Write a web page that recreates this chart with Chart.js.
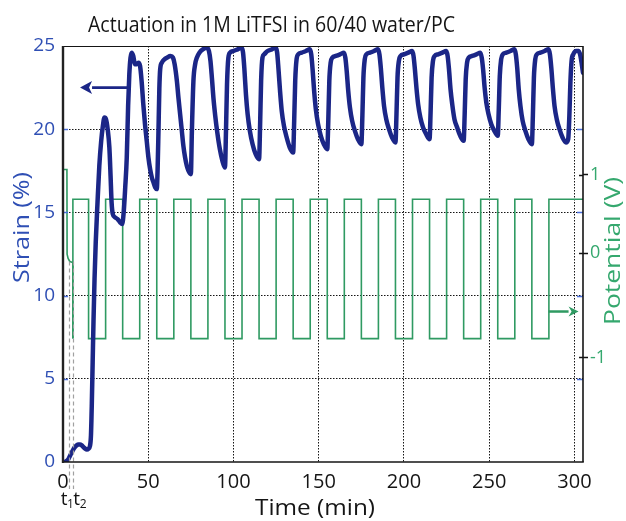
<!DOCTYPE html>
<html>
<head>
<meta charset="utf-8">
<script src="https://cdn.jsdelivr.net/npm/chart.js@4.4.1/dist/chart.umd.min.js"></script>
<style>
  html, body { margin: 0; padding: 0; background: #ffffff; }
  #plot { display: block; }
</style>
</head>
<body>
<canvas id="plot" width="626" height="521"></canvas>
<script>
// ---- data ---------------------------------------------------------------
const chartTitle = 'Actuation in 1M LiTFSI in 60/40 water/PC';
const timeTitle = 'Time (min)';
const strainTitle = 'Strain (%)';
const potentialTitle = 'Potential (V)';

const timeTicks = [0, 50, 100, 150, 200, 250, 300];
const strainTicks = [0, 5, 10, 15, 20, 25];
const potentialTicks = [-1, 0, 1];

// strain record (min, %)
const strainTime = [
  0, 1, 2, 3, 4, 5, 6, 7, 8, 9, 10, 11, 12, 13, 14, 15,
  15.8, 16.4, 16.9, 17.4, 17.9, 18.5, 19.2, 20.2, 21.3, 22.4, 23.4, 24.3, 25.2, 26.2, 27.2, 27.9, 28.5, 29.2, 30.5, 32, 33.5, 34.7,
  35.6, 36.5, 37.4, 38.2, 38.9, 39.6, 40.3, 41.2, 42.2, 43.2, 44.2, 45.2, 46.1, 47.1, 48.1, 49.1, 50.1, 51.1, 52.1, 53.1, 54.1, 55,
  55.5, 56, 56.5, 57, 58, 59.5, 61, 63, 64.5, 65.5, 66.8, 67.7, 68.7, 69.7, 70.6, 71.6, 72.6, 73.6, 75,
  75.6, 76.5, 77.5, 78.5, 80, 82, 84.4, 85.6, 86.5, 87.4, 88.3, 89.3, 90.5, 92, 93.5, 95,
  95.6, 96.2, 97, 98, 100, 102.5, 104.8, 105.6, 106.4, 107.3, 108.3, 109.6, 111.2, 113, 115,
  115.6, 116.2, 117, 118, 120, 122.5, 124.8, 125.6, 126.4, 127.3, 128.3, 129.6, 131.2, 133, 135,
  135.6, 136.2, 137, 138, 140, 142.5, 144.8, 145.6, 146.4, 147.3, 148.3, 149.6, 151.2, 153, 155,
  155.6, 156.2, 157, 158, 160, 162.5, 164.8, 165.6, 166.4, 167.3, 168.3, 169.6, 171.2, 173, 175,
  175.6, 176.2, 177, 178, 180, 182.5, 184.8, 185.6, 186.4, 187.3, 188.3, 189.6, 191.2, 193, 195,
  195.6, 196.2, 197, 198, 200, 202.5, 204.8, 205.6, 206.4, 207.3, 208.3, 209.6, 211.2, 213, 215,
  215.6, 216.2, 217, 218, 220, 222.5, 224.8, 225.6, 226.4, 227.3, 228.3, 229.6, 231.2, 233, 235,
  235.6, 236.2, 237, 238, 240, 242.5, 244.8, 245.6, 246.4, 247.3, 248.3, 249.6, 251.2, 253, 255,
  255.6, 256.2, 257, 258, 260, 262.5, 264.8, 265.6, 266.4, 267.3, 268.3, 269.6, 271.2, 273, 275,
  275.6, 276.2, 277, 278, 280, 282.5, 284.8, 285.6, 286.4, 287.3, 288.3, 289.6, 291.2, 293, 295,
  296.3, 297, 297.6, 298.3, 299.3, 301, 302.5, 303.5, 304.3, 305
];
const strainPercent = [
  0, 0, 0.05, 0.15, 0.35, 0.55, 0.75, 0.9, 1.0, 1.05, 1.05, 1.0, 0.9, 0.8, 0.75, 0.8,
  0.95, 1.6, 3.5, 6.0, 8.5, 11.0, 13.2, 15.5, 17.8, 19.3, 20.2, 20.7, 20.6, 20.0, 18.9, 17.2, 15.6, 14.9, 14.7, 14.6, 14.4, 14.3,
  15.0, 16.5, 18.3, 21.4, 23.3, 24.3, 24.6, 24.4, 23.9, 23.9, 24.0, 23.8, 22.9, 21.5, 20.3, 19.3, 18.3, 17.6, 17.1, 16.8, 16.5, 16.4,
  17.6, 19.9, 22.4, 23.6, 24.0, 24.2, 24.3, 24.4, 24.3, 23.9, 22.9, 21.9, 20.9, 19.9, 19.0, 18.3, 17.8, 17.5, 17.3,
  19.9, 22.9, 23.9, 24.3, 24.6, 24.8, 24.9, 24.7, 24.1, 23.0, 21.8, 20.8, 19.8, 18.8, 18.1, 17.7,
  19.9, 22.7, 24.3, 24.6, 24.7, 24.8, 24.9, 24.6, 23.6, 22.1, 20.9, 19.9, 19.1, 18.5, 18.2,
  20.2, 22.9, 24.3, 24.5, 24.7, 24.8, 24.9, 24.6, 23.6, 22.3, 21.1, 20.2, 19.5, 18.9, 18.6,
  20.5, 22.9, 24.2, 24.5, 24.6, 24.7, 24.8, 24.5, 23.6, 22.3, 21.2, 20.3, 19.6, 19.1, 18.8,
  20.5, 22.9, 24.0, 24.3, 24.4, 24.5, 24.6, 24.3, 23.5, 22.3, 21.3, 20.5, 19.9, 19.4, 19.1,
  20.8, 23.1, 24.2, 24.5, 24.6, 24.7, 24.8, 24.5, 23.7, 22.5, 21.4, 20.6, 20.0, 19.5, 19.2,
  20.9, 23.1, 24.1, 24.4, 24.5, 24.6, 24.7, 24.4, 23.6, 22.5, 21.5, 20.7, 20.1, 19.7, 19.4,
  21.0, 23.1, 24.1, 24.4, 24.5, 24.6, 24.7, 24.4, 23.6, 22.4, 21.5, 20.6, 20.1, 19.6, 19.3,
  20.9, 23.0, 24.0, 24.3, 24.4, 24.5, 24.6, 24.3, 23.6, 22.5, 21.6, 20.9, 20.3, 19.9, 19.6,
  21.2, 23.2, 24.2, 24.5, 24.6, 24.7, 24.8, 24.5, 23.7, 22.4, 21.4, 20.5, 19.9, 19.4, 19.1,
  20.8, 23.1, 24.2, 24.5, 24.6, 24.7, 24.8, 24.5, 23.7, 22.5, 21.4, 20.6, 20.0, 19.5, 19.2,
  19.4, 20.8, 22.8, 24.1, 24.5, 24.7, 24.7, 24.4, 23.9, 23.4
];

// applied potential: open-circuit start, then the square-wave programme (min, V)
const potentialStartTime = [0, 2.3, 2.4, 3.0, 4.0, 5.8, 5.8];
const potentialStartVolts = [1.07, 1.07, -0.01, -0.05, -0.08, -0.09, -0.82];
const switchTime = [5.8, 15, 25, 35, 45, 55, 65, 75, 85, 95, 105, 115, 125, 135, 145,
  155, 165, 175, 185, 195, 205, 215, 225, 235, 245, 255, 265, 275, 285, 295, 305];
const switchVolts = [-0.82, 0.69, -0.82, 0.69, -0.82, 0.69, -0.82, 0.69, -0.82, 0.69, -0.82,
  0.69, -0.82, 0.69, -0.82, 0.69, -0.82, 0.69, -0.82, 0.69, -0.82, 0.69, -0.82, 0.69, -0.82,
  0.69, -0.82, 0.69, -0.82, 0.69, 0.69];

// marked instants t1, t2 (min) and the axis-pointer arrows (data units)
const markTimes = [3.3, 5.7];
const markNames = ['1', '2'];
const strainArrow = { from: [38, 22.5], to: [10, 22.5] };
const potentialArrow = { from: [284.8, -0.56], to: [302.4, -0.56] };

// ---- styling ------------------------------------------------------------
const BLUE_LINE = '#1b2687';
const BLUE_TEXT = '#2f4fb4';
const BLUE_TICK = '#4a6fdc';
const GREEN_LINE = '#2f9a62';
const GREEN_TEXT = '#35a86e';
const INK = '#151515';
const FONT = '"Open Sans", "Noto Sans", sans-serif';

// Potential axis whose volt spacing differs above and below zero.
class SplitLinearScale extends Chart.LinearScale {
  getPixelForValue(value) {
    if (value === null || value === undefined || Number.isNaN(value)) return NaN;
    const s = this.options.split;
    const dec = s.zero + value * (value >= 0 ? s.upper : s.lower);
    return this.getPixelForDecimal(dec);
  }
  getValueForPixel(pixel) {
    const s = this.options.split;
    const dec = this.getDecimalForPixel(pixel);
    return (dec - s.zero) / (dec >= s.zero ? s.upper : s.lower);
  }
}
SplitLinearScale.id = 'splitLinear';
SplitLinearScale.defaults = Chart.LinearScale.defaults;
Chart.register(SplitLinearScale);

function toPoints(xs, ys) { return xs.map((t, i) => ({ x: t, y: ys[i] })); }

function fitText(ctx, text, cx, cy, length, angle, font, color, baseline) {
  ctx.save();
  ctx.font = font;
  ctx.fillStyle = color;
  ctx.textAlign = 'center';
  ctx.textBaseline = baseline;
  ctx.translate(cx, cy);
  ctx.rotate(angle);
  const w = ctx.measureText(text).width;
  ctx.scale(length / w, 1);
  ctx.fillText(text, 0, 0);
  ctx.restore();
}

function seg(ctx, x1, y1, x2, y2) {
  ctx.beginPath(); ctx.moveTo(x1, y1); ctx.lineTo(x2, y2); ctx.stroke();
}

function arrow(ctx, x1, y1, x2, y2, color, width, headLen, headHalf) {
  const ang = Math.atan2(y2 - y1, x2 - x1);
  ctx.save();
  ctx.strokeStyle = color; ctx.fillStyle = color; ctx.lineWidth = width;
  ctx.lineCap = 'butt';
  const bx = x2 - headLen * Math.cos(ang), by = y2 - headLen * Math.sin(ang);
  seg(ctx, x1, y1, bx, by);
  ctx.beginPath();
  ctx.moveTo(x2, y2);
  ctx.lineTo(bx + headHalf * Math.sin(ang), by - headHalf * Math.cos(ang));
  ctx.lineTo(bx + 3 * Math.cos(ang), by + 3 * Math.sin(ang));
  ctx.lineTo(bx - headHalf * Math.sin(ang), by + headHalf * Math.cos(ang));
  ctx.closePath();
  ctx.fill();
  ctx.restore();
}

const decorations = {
  id: 'decorations',
  afterDatasetsDraw(chart) {
    const { ctx, chartArea: a, scales } = chart;
    const { x, y, y2 } = scales;
    ctx.save();

    // t1 / t2 markers
    ctx.strokeStyle = '#a0a0a0';
    ctx.lineWidth = 1.2;
    ctx.setLineDash([4, 3]);
    markTimes.forEach(t => {
      const px = Math.round(x.getPixelForValue(t)) + 0.5;
      seg(ctx, px, y2.getPixelForValue(-0.08), px, a.bottom + 27);
    });
    ctx.setLineDash([]);

    // short strain ticks just inside the left and right frame
    ctx.strokeStyle = BLUE_TICK;
    ctx.lineWidth = 1.5;
    strainTicks.forEach(v => {
      if (v <= 0 || v >= 25) return;
      const py = Math.round(y.getPixelForValue(v)) + 0.5;
      seg(ctx, a.left, py, a.left + 5, py);
      seg(ctx, a.right - 6, py, a.right, py);
    });

    // inner half of the potential ticks
    ctx.strokeStyle = INK;
    potentialTicks.forEach(v => {
      const py = Math.round(y2.getPixelForValue(v)) + 0.5;
      seg(ctx, a.right - 4, py, a.right, py);
    });

    // frame
    ctx.strokeStyle = INK;
    ctx.lineWidth = 1;
    seg(ctx, a.left, a.top + 0.5, a.right, a.top + 0.5);
    ctx.lineWidth = 1.6;
    seg(ctx, a.right, a.top, a.right, a.bottom);
    seg(ctx, a.left, a.bottom, a.right + 0.8, a.bottom);
    ctx.strokeStyle = '#222';
    ctx.lineWidth = 2.4;
    seg(ctx, a.left, a.top, a.left, a.bottom + 1);

    // axis pointer arrows
    arrow(ctx,
      x.getPixelForValue(strainArrow.from[0]), y.getPixelForValue(strainArrow.from[1]),
      x.getPixelForValue(strainArrow.to[0]), y.getPixelForValue(strainArrow.to[1]),
      BLUE_LINE, 2.7, 12, 6.5);
    arrow(ctx,
      x.getPixelForValue(potentialArrow.from[0]), y2.getPixelForValue(potentialArrow.from[1]),
      x.getPixelForValue(potentialArrow.to[0]), y2.getPixelForValue(potentialArrow.to[1]),
      GREEN_LINE, 2.5, 10, 5);
    ctx.restore();
  },
  afterDraw(chart) {
    const { ctx, chartArea: a, scales } = chart;
    const { x } = scales;
    fitText(ctx, chartTitle, 271.5, 32, 367, 0, '22px ' + FONT, INK, 'alphabetic');
    fitText(ctx, timeTitle, 315, 515, 120, 0, '22px ' + FONT, INK, 'alphabetic');
    fitText(ctx, strainTitle, 23, 227.5, 111, -Math.PI / 2, '21px ' + FONT, BLUE_TEXT, 'middle');
    fitText(ctx, potentialTitle, 613.5, 251, 148, -Math.PI / 2, '22px ' + FONT, GREEN_TEXT, 'middle');

    // t1, t2 labels with subscripts
    ctx.save();
    ctx.fillStyle = INK;
    ctx.textAlign = 'left';
    ctx.textBaseline = 'alphabetic';
    markTimes.forEach((t, i) => {
      const px = x.getPixelForValue(t);
      const start = i === 0 ? px - 8 : px + 0.6;
      ctx.font = '19px ' + FONT;
      ctx.fillText('t', start, a.bottom + 43);
      ctx.font = '12px ' + FONT;
      ctx.fillText(markNames[i], start + 6.4, a.bottom + 46);
    });
    ctx.restore();
  }
};

new Chart(document.getElementById('plot'), {
  type: 'line',
  data: {
    datasets: [
      {
        label: 'Strain',
        data: toPoints(strainTime, strainPercent),
        yAxisID: 'y',
        borderColor: BLUE_LINE,
        borderWidth: 4.5,
        pointRadius: 0,
        cubicInterpolationMode: 'monotone',
        borderJoinStyle: 'round',
        borderCapStyle: 'round',
        order: 0
      },
      {
        label: 'Potential (start)',
        data: toPoints(potentialStartTime, potentialStartVolts),
        yAxisID: 'y2',
        borderColor: GREEN_LINE,
        borderWidth: 1.6,
        pointRadius: 0,
        tension: 0,
        order: 1
      },
      {
        label: 'Potential',
        data: toPoints(switchTime, switchVolts),
        yAxisID: 'y2',
        borderColor: GREEN_LINE,
        borderWidth: 1.6,
        pointRadius: 0,
        stepped: 'after',
        order: 2
      }
    ]
  },
  options: {
    responsive: false,
    devicePixelRatio: 1,
    animation: false,
    layout: { padding: { top: 46, left: 0, right: 0, bottom: 0 } },
    plugins: { legend: { display: false }, tooltip: { enabled: false }, title: { display: false } },
    scales: {
      x: {
        type: 'linear',
        position: 'bottom',
        min: 0,
        max: 305,
        afterBuildTicks: s => { s.ticks = timeTicks.map(v => ({ value: v })); },
        afterFit: s => { s.height = 59; },
        ticks: { padding: 8, color: INK, font: { family: FONT, size: 20 }, maxRotation: 0, autoSkip: false },
        grid: {
          color: c => (c.tick && c.tick.value > 0 ? INK : 'transparent'),
          lineWidth: 1,
          drawTicks: false
        },
        border: { display: false, dash: [1.5, 1.5] }
      },
      y: {
        type: 'linear',
        position: 'left',
        min: 0,
        max: 25,
        afterBuildTicks: s => { s.ticks = strainTicks.map(v => ({ value: v })); },
        afterFit: s => { s.width = 63; },
        ticks: { padding: 8, color: BLUE_TEXT, font: { family: FONT, size: 19 } },
        grid: {
          color: c => (c.tick && c.tick.value > 0 && c.tick.value < 25 ? INK : 'transparent'),
          lineWidth: 1,
          drawTicks: false
        },
        border: { display: false, dash: [1.5, 1.5] }
      },
      y2: {
        type: 'splitLinear',
        position: 'right',
        min: -2.01,
        max: 2.66,
        split: { zero: 0.502, upper: 0.188, lower: 0.2505 },
        afterBuildTicks: s => { s.ticks = potentialTicks.map(v => ({ value: v })); },
        afterFit: s => { s.width = 43; },
        ticks: { padding: 2, color: GREEN_TEXT, font: { family: FONT, size: 18 }, callback: v => String(v) },
        grid: { display: true, drawOnChartArea: false, drawTicks: true, tickLength: 5, tickColor: INK, tickWidth: 1.5 },
        border: { display: false }
      }
    }
  },
  plugins: [decorations]
});
</script>
</body>
</html>
